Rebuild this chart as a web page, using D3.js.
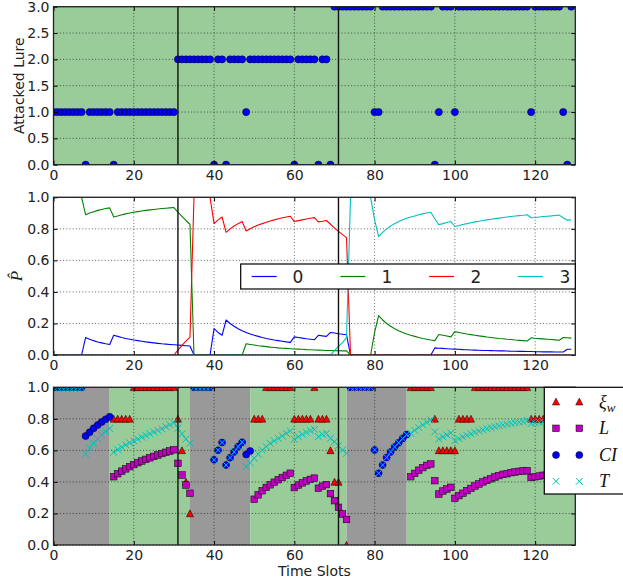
<!DOCTYPE html>
<html><head><meta charset="utf-8">
<script src="https://cdn.jsdelivr.net/npm/d3@7"></script>
<style>
html,body{margin:0;padding:0;background:#fff;}
svg{display:block;font-family:"DejaVu Sans",sans-serif;}
</style></head><body>
<svg id="chart" width="623" height="584"></svg>
<script>
// ---------------- DATA ----------------
const timeSlots = d3.range(130);
const changePoints = [31, 71];
const xTicks = [0, 20, 40, 60, 80, 100, 120];
const yTicksLure = [0, 0.5, 1, 1.5, 2, 2.5, 3];
const yTicksProb = [0, 0.2, 0.4, 0.6, 0.8, 1];

const attackedLure = [
1,1,1,1,1,1,1,1,0,1,
1,1,1,1,1,0,1,1,1,1,
1,1,1,1,1,1,1,1,1,1,
1,2,2,2,2,2,2,2,2,2,
0,2,2,0,2,2,2,2,1,2,
2,2,2,2,2,2,2,2,2,2,
0,2,2,2,2,2,0,2,2,0,
3,3,3,3,3,3,3,3,3,3,
1,1,3,3,3,3,3,3,3,3,
3,3,3,3,3,0,1,3,3,3,
1,3,3,3,3,3,3,3,3,3,
3,3,3,3,3,3,3,3,3,1,
3,3,3,3,3,3,3,1,0,3];

const lureNames = ["0", "1", "2", "3"];
const pLure0 = [
0,0,0,0,0,0,0,0,0.111,0.100,
0.091,0.083,0.077,0.071,0.067,0.125,0.118,0.111,0.105,0.100,
0.095,0.091,0.087,0.083,0.080,0.077,0.074,0.071,0.069,0.067,
0.065,0.063,0.061,0.059,0.057,0,0,0,0,0,
0.167,0.143,0.125,0.222,0.200,0.182,0.167,0.154,0.143,0.133,
0.125,0.118,0.111,0.105,0.100,0.095,0.091,0.087,0.083,0.080,
0.115,0.111,0.107,0.103,0.100,0.097,0.125,0.121,0.118,0.143,
0.139,0.135,0.132,0.128,0,0,0,0,0,0,
0,0,0,0,0,0,0,0,0,0,
0,0,0,0,0,0.045,0.043,0.042,0.040,0.038,
0.037,0.036,0.034,0.033,0.032,0.031,0.030,0.029,0.029,0.028,
0.027,0.026,0.026,0.025,0.024,0.024,0.023,0.023,0.022,0.022,
0.021,0.021,0.020,0.020,0.020,0.019,0.019,0.019,0.036,0.036];
const pLure1 = [
1,1,1,1,1,1,1,1,0.889,0.900,
0.909,0.917,0.923,0.929,0.933,0.875,0.882,0.889,0.895,0.900,
0.905,0.909,0.913,0.917,0.920,0.923,0.926,0.929,0.931,0.933,
0.935,0.906,0.879,0.853,0.829,0,0,0,0,0,
0,0,0,0,0,0,0,0,0.071,0.067,
0.063,0.059,0.056,0.053,0.050,0.048,0.045,0.043,0.042,0.040,
0.038,0.037,0.036,0.034,0.033,0.032,0.031,0.030,0.029,0.029,
0.028,0.027,0.026,0.026,0,0,0,0,0,0,
0.143,0.250,0.222,0.200,0.182,0.167,0.154,0.143,0.133,0.125,
0.118,0.111,0.105,0.100,0.095,0.091,0.130,0.125,0.120,0.115,
0.148,0.143,0.138,0.133,0.129,0.125,0.121,0.118,0.114,0.111,
0.108,0.105,0.103,0.100,0.098,0.095,0.093,0.091,0.089,0.109,
0.106,0.104,0.102,0.100,0.098,0.096,0.094,0.111,0.109,0.107];
const pLure2 = [
0,0,0,0,0,0,0,0,0,0,
0,0,0,0,0,0,0,0,0,0,
0,0,0,0,0,0,0,0,0,0,
0,0.031,0.061,0.088,0.114,1,1,1,1,1,
0.833,0.857,0.875,0.778,0.800,0.818,0.833,0.846,0.786,0.800,
0.813,0.824,0.833,0.842,0.850,0.857,0.864,0.870,0.875,0.880,
0.846,0.852,0.857,0.862,0.867,0.871,0.844,0.848,0.853,0.829,
0.806,0.784,0.763,0.744,0,0,0,0,0,0,
0,0,0,0,0,0,0,0,0,0,
0,0,0,0,0,0,0,0,0,0,
0,0,0,0,0,0,0,0,0,0,
0,0,0,0,0,0,0,0,0,0,
0,0,0,0,0,0,0,0,0,0];
const pLure3 = [
0,0,0,0,0,0,0,0,0,0,
0,0,0,0,0,0,0,0,0,0,
0,0,0,0,0,0,0,0,0,0,
0,0,0,0,0,0,0,0,0,0,
0,0,0,0,0,0,0,0,0,0,
0,0,0,0,0,0,0,0,0,0,
0,0,0,0,0,0,0,0,0,0,
0.028,0.054,0.079,0.110,1,1,1,1,1,1,
0.857,0.750,0.778,0.800,0.818,0.833,0.846,0.857,0.867,0.875,
0.882,0.889,0.895,0.900,0.905,0.864,0.826,0.833,0.840,0.846,
0.815,0.821,0.828,0.833,0.839,0.844,0.848,0.853,0.857,0.861,
0.865,0.868,0.872,0.875,0.878,0.881,0.884,0.886,0.889,0.870,
0.872,0.875,0.878,0.880,0.882,0.885,0.887,0.870,0.855,0.857];

const N = null;
const xiW = [
N,N,N,N,N,N,N,N,N,N,
N,N,N,N,N,0.8,0.8,0.8,0.8,0.8,
1,1,1,1,1,1,1,1,1,1,
1,0.8,0.6,0.4,0.2,N,N,N,N,N,
N,N,N,N,N,N,N,N,N,N,
0.8,0.8,0.8,1,1,1,1,1,1,1,
0.8,0.8,0.8,0.8,0.8,1,0.8,0.8,0.8,0.6,
0.4,0.4,0.2,0,N,N,N,N,N,N,
N,N,N,N,N,N,N,N,N,1,
1,1,1,1,1,0.8,0.6,0.6,0.6,0.6,
0.6,0.8,0.8,0.8,0.8,1,1,1,1,1,
1,1,1,1,1,1,1,1,1,0.8,
0.8,0.8,0.8,0.8,1,1,1,0.8,0.6,0.6];
const lossL = [
N,N,N,N,N,N,N,N,N,N,
N,N,N,N,N,0.433,0.452,0.468,0.483,0.497,
0.510,0.522,0.533,0.543,0.553,0.562,0.571,0.580,0.588,0.596,
0.604,0.518,0.444,0.380,0.328,N,N,N,N,N,
N,N,N,N,N,N,N,N,N,N,
0.290,0.318,0.344,0.365,0.382,0.398,0.414,0.428,0.442,0.455,
0.364,0.380,0.394,0.406,0.416,0.424,0.360,0.373,0.383,0.326,
0.281,0.239,0.197,0.162,N,N,N,N,N,N,
N,N,N,N,N,N,N,N,N,0.433,
0.454,0.474,0.491,0.505,0.514,0.408,0.323,0.342,0.355,0.366,
0.296,0.313,0.328,0.345,0.359,0.374,0.387,0.400,0.410,0.420,
0.431,0.440,0.448,0.452,0.459,0.463,0.467,0.470,0.471,0.428,
0.433,0.437,0.442,0.447,0.452,0.457,0.461,0.425,0.392,0.398];
const confCI = [
1,1,1,1,1,1,1,1,0.691,0.715,
0.740,0.761,0.780,0.797,0.813,N,N,N,N,N,
N,N,N,N,N,N,N,N,N,N,
N,N,N,N,N,1,1,1,1,1,
0.540,0.601,0.650,0.507,0.554,0.590,0.624,0.652,0.574,0.596,
N,N,N,N,N,N,N,N,N,N,
N,N,N,N,N,N,N,N,N,N,
N,N,N,N,1,1,1,1,1,1,
0.603,0.455,0.507,0.555,0.590,0.622,0.648,0.676,0.700,N,
N,N,N,N,N,N,N,N,N,N,
N,N,N,N,N,N,N,N,N,N,
N,N,N,N,N,N,N,N,N,N,
N,N,N,N,N,N,N,N,N,N];
const thrT = [
1,1,1,1,1,1,1,1,0.577,0.615,
0.645,0.675,0.700,0.720,0.740,0.588,0.605,0.620,0.635,0.648,
0.660,0.672,0.684,0.695,0.706,0.717,0.727,0.737,0.750,0.763,
0.775,0.740,0.705,0.672,0.645,1,1,1,1,1,
0.540,0.601,0.650,0.507,0.554,0.590,0.624,0.652,0.497,0.522,
0.550,0.577,0.602,0.624,0.645,0.661,0.676,0.691,0.708,0.723,
0.670,0.687,0.702,0.715,0.725,0.733,0.687,0.702,0.708,0.676,
0.655,0.630,0.602,0.581,1,1,1,1,1,1,
0.603,0.455,0.507,0.555,0.590,0.622,0.648,0.676,0.700,0.708,
0.727,0.745,0.762,0.778,0.793,0.718,0.672,0.686,0.698,0.710,
0.662,0.674,0.685,0.695,0.705,0.714,0.722,0.730,0.737,0.744,
0.750,0.756,0.761,0.766,0.771,0.775,0.779,0.783,0.790,0.770,
0.774,0.778,0.781,0.785,0.788,0.791,0.794,0.780,0.765,0.768];

// shaded phases of the bottom panel (start, end, kind)
const phaseStart = [0, 14, 34, 49, 73, 88];
const phaseEnd   = [14, 34, 49, 73, 88, 130];
const phaseKind  = ["gray", "green", "gray", "green", "gray", "green"];

// ---------------- LAYOUT ----------------
const svg = d3.select("#chart");
const X0 = 53.5, X1 = 575.3;
const x = d3.scaleLinear().domain([0, 130]).range([X0, X1]);
const P = {
  top: {t: 6.7, b: 164.7},
  mid: {t: 197.3, b: 355},
  bot: {t: 387.3, b: 545}
};
const yTop = d3.scaleLinear().domain([0, 3]).range([P.top.b, P.top.t]);
const yMid = d3.scaleLinear().domain([0, 1]).range([P.mid.b, P.mid.t]);
const yBot = d3.scaleLinear().domain([0, 1]).range([P.bot.b, P.bot.t]);
const GREEN = "#99cc99", GRAY = "#999999";
const FS = 14;
const fmt1 = d3.format(".1f");

const defs = svg.append("defs");
function clip(id, p) {
  defs.append("clipPath").attr("id", id).append("rect")
    .attr("x", X0).attr("y", p.t).attr("width", X1 - X0).attr("height", p.b - p.t);
}
clip("cTop", P.top); clip("cMid", P.mid); clip("cBot", P.bot);

function grid(g, p, y, yt) {
  const gg = g.append("g").attr("stroke", "#000").attr("stroke-width", 0.8)
    .attr("stroke-dasharray", "1,2.2").attr("opacity", 0.75);
  xTicks.forEach(v => gg.append("line").attr("x1", x(v)).attr("x2", x(v))
    .attr("y1", p.t).attr("y2", p.b));
  yt.forEach(v => gg.append("line").attr("x1", X0).attr("x2", X1)
    .attr("y1", y(v)).attr("y2", y(v)));
}
function vlines(g, p) {
  changePoints.forEach(c => g.append("line").attr("x1", x(c)).attr("x2", x(c))
    .attr("y1", p.t).attr("y2", p.b).attr("stroke", "#111").attr("stroke-width", 1.4));
}
function frame(g, p, y, yt) {
  const axB = d3.axisBottom(x).tickValues(xTicks).tickSize(-4).tickPadding(5).tickFormat(d3.format("d"));
  const axT = d3.axisTop(x).tickValues(xTicks).tickSize(-4).tickFormat("");
  const axL = d3.axisLeft(y).tickValues(yt).tickSize(-4).tickPadding(4).tickFormat(fmt1);
  const axR = d3.axisRight(y).tickValues(yt).tickSize(-4).tickFormat("");
  const style = s => {
    s.select(".domain").remove();
    s.selectAll(".tick line").attr("stroke", "#000").attr("stroke-width", 1);
    s.selectAll("text").attr("fill", "#222").style("font-size", FS + "px")
      .style("font-family", "'DejaVu Sans', sans-serif");
  };
  g.append("g").attr("transform", `translate(0,${p.b})`).call(axB).call(style);
  g.append("g").attr("transform", `translate(0,${p.t})`).call(axT).call(style);
  g.append("g").attr("transform", `translate(${X0},0)`).call(axL).call(style);
  g.append("g").attr("transform", `translate(${X1},0)`).call(axR).call(style);
  g.append("rect").attr("x", X0).attr("y", p.t).attr("width", X1 - X0).attr("height", p.b - p.t)
    .attr("fill", "none").attr("stroke", "#222").attr("stroke-width", 1.3);
}

// ---------------- TOP PANEL ----------------
const gT = svg.append("g");
gT.append("rect").attr("x", x(0)).attr("width", x(130) - x(0))
  .attr("y", P.top.t).attr("height", P.top.b - P.top.t).attr("fill", GREEN);
grid(gT, P.top, yTop, yTicksLure);
gT.append("g").attr("clip-path", "url(#cTop)").selectAll("circle")
  .data(timeSlots).join("circle")
  .attr("cx", d => x(d)).attr("cy", d => yTop(attackedLure[d])).attr("r", 3.6)
  .attr("fill", "#0000ff").attr("stroke", "#000").attr("stroke-width", 0.5);
vlines(gT, P.top);
frame(gT, P.top, yTop, yTicksLure);
svg.append("text").attr("transform", `translate(23.5,${(P.top.t + P.top.b) / 2}) rotate(-90)`)
  .attr("text-anchor", "middle").style("font-size", FS + "px").attr("fill", "#222")
  .text("Attacked Lure");

// ---------------- MIDDLE PANEL ----------------
const gM = svg.append("g");
grid(gM, P.mid, yMid, yTicksProb);
const pSeries = [pLure0, pLure1, pLure2, pLure3];
const pColors = ["#0000ff", "#008000", "#ff0000", "#00bfbf"];
const line = d3.line().x(d => x(d[0])).y(d => yMid(d[1]));
const lg = gM.append("g").attr("clip-path", "url(#cMid)");
pSeries.forEach((s, i) => {
  lg.append("path").datum(timeSlots.map(t => [t, s[t]])).attr("d", line)
    .attr("fill", "none").attr("stroke", pColors[i]).attr("stroke-width", 1.1)
    .attr("stroke-linejoin", "round");
});
vlines(gM, P.mid);
frame(gM, P.mid, yMid, yTicksProb);
svg.append("text").attr("transform", `translate(21.5,${(P.mid.t + P.mid.b) / 2}) rotate(-90)`)
  .attr("text-anchor", "middle").style("font-size", "17px")
  .style("font-family", "'Liberation Serif', serif").style("font-style", "italic")
  .attr("fill", "#222").text("P\u0302");
// legend
const lgM = svg.append("g");
lgM.append("rect").attr("x", 240.7).attr("y", 264).attr("width", X1 - 240.7).attr("height", 25)
  .attr("fill", "#fff").attr("stroke", "#000").attr("stroke-width", 1.2);
lureNames.forEach((nm, i) => {
  const lx = 251.7 + i * 88.7;
  lgM.append("line").attr("x1", lx).attr("x2", lx + 25).attr("y1", 276.5).attr("y2", 276.5)
    .attr("stroke", pColors[i]).attr("stroke-width", 1.2);
  lgM.append("text").attr("x", 298 + i * 89).attr("y", 276.5).attr("dy", "0.36em")
    .attr("text-anchor", "middle").style("font-size", "17px").attr("fill", "#222").text(nm);
});

// ---------------- BOTTOM PANEL ----------------
const gB = svg.append("g");
gB.selectAll("rect.phase").data(phaseStart.map((s, i) => i)).join("rect")
  .attr("class", "phase")
  .attr("x", i => x(phaseStart[i])).attr("width", i => x(phaseEnd[i]) - x(phaseStart[i]))
  .attr("y", P.bot.t).attr("height", P.bot.b - P.bot.t)
  .attr("fill", i => phaseKind[i] === "gray" ? GRAY : GREEN);
grid(gB, P.bot, yBot, yTicksProb);
const mk = gB.append("g").attr("clip-path", "url(#cBot)");
const triPath = (cx, cy) => `M${cx},${cy - 3.6}L${cx + 3.6},${cy + 3.3}L${cx - 3.6},${cy + 3.3}Z`;
const xPath = (cx, cy) => `M${cx - 3.4},${cy - 3.4}L${cx + 3.4},${cy + 3.4}M${cx - 3.4},${cy + 3.4}L${cx + 3.4},${cy - 3.4}`;
const defined = s => timeSlots.filter(t => s[t] !== null);
mk.selectAll("path.xi").data(defined(xiW)).join("path").attr("class", "xi")
  .attr("d", t => triPath(x(t), yBot(xiW[t])))
  .attr("fill", "#ff0000").attr("stroke", "#000").attr("stroke-width", 0.5);
mk.selectAll("rect.L").data(defined(lossL)).join("rect").attr("class", "L")
  .attr("x", t => x(t) - 3.3).attr("y", t => yBot(lossL[t]) - 3.3)
  .attr("width", 6.6).attr("height", 6.6)
  .attr("fill", "#bf00bf").attr("stroke", "#000").attr("stroke-width", 0.5);
mk.selectAll("circle.ci").data(defined(confCI)).join("circle").attr("class", "ci")
  .attr("cx", t => x(t)).attr("cy", t => yBot(confCI[t])).attr("r", 3.5)
  .attr("fill", "#0000ff").attr("stroke", "#000").attr("stroke-width", 0.5);
mk.selectAll("path.T").data(defined(thrT)).join("path").attr("class", "T")
  .attr("d", t => xPath(x(t), yBot(thrT[t])))
  .attr("fill", "none").attr("stroke", "#00bfbf").attr("stroke-width", 1);
vlines(gB, P.bot);
frame(gB, P.bot, yBot, yTicksProb);
svg.append("text").attr("x", (X0 + X1) / 2).attr("y", 576).attr("text-anchor", "middle")
  .style("font-size", FS + "px").attr("fill", "#222").text("Time Slots");

// legend (bottom)
const lgB = svg.append("g");
lgB.append("rect").attr("x", 544.3).attr("y", P.bot.t).attr("width", 100).attr("height", 106.7)
  .attr("fill", "#fff").attr("stroke", "#000").attr("stroke-width", 1.2);
const legY = [401.7, 428.3, 455, 481.3];
const mx = [556, 579.3];
mx.forEach(cx => {
  lgB.append("path").attr("d", triPath(cx, legY[0])).attr("fill", "#ff0000").attr("stroke", "#000").attr("stroke-width", 0.5);
  lgB.append("rect").attr("x", cx - 3.3).attr("y", legY[1] - 3.3).attr("width", 6.6).attr("height", 6.6)
    .attr("fill", "#bf00bf").attr("stroke", "#000").attr("stroke-width", 0.5);
  lgB.append("circle").attr("cx", cx).attr("cy", legY[2]).attr("r", 3.5)
    .attr("fill", "#0000ff").attr("stroke", "#000").attr("stroke-width", 0.5);
  lgB.append("path").attr("d", xPath(cx, legY[3])).attr("fill", "none").attr("stroke", "#00bfbf").attr("stroke-width", 1);
});
const lt = (i) => lgB.append("text").attr("x", 599).attr("y", legY[i]).attr("dy", "0.33em")
  .style("font-family", "'Liberation Serif', serif").style("font-style", "italic")
  .style("font-size", "18px").attr("fill", "#111");
const t0 = lt(0); t0.append("tspan").text("\u03BE");
t0.append("tspan").attr("dy", "0.3em").style("font-size", "13px").text("w");
lt(1).text("L");
lt(2).text("CI");
lt(3).text("T");
</script>
</body></html>
